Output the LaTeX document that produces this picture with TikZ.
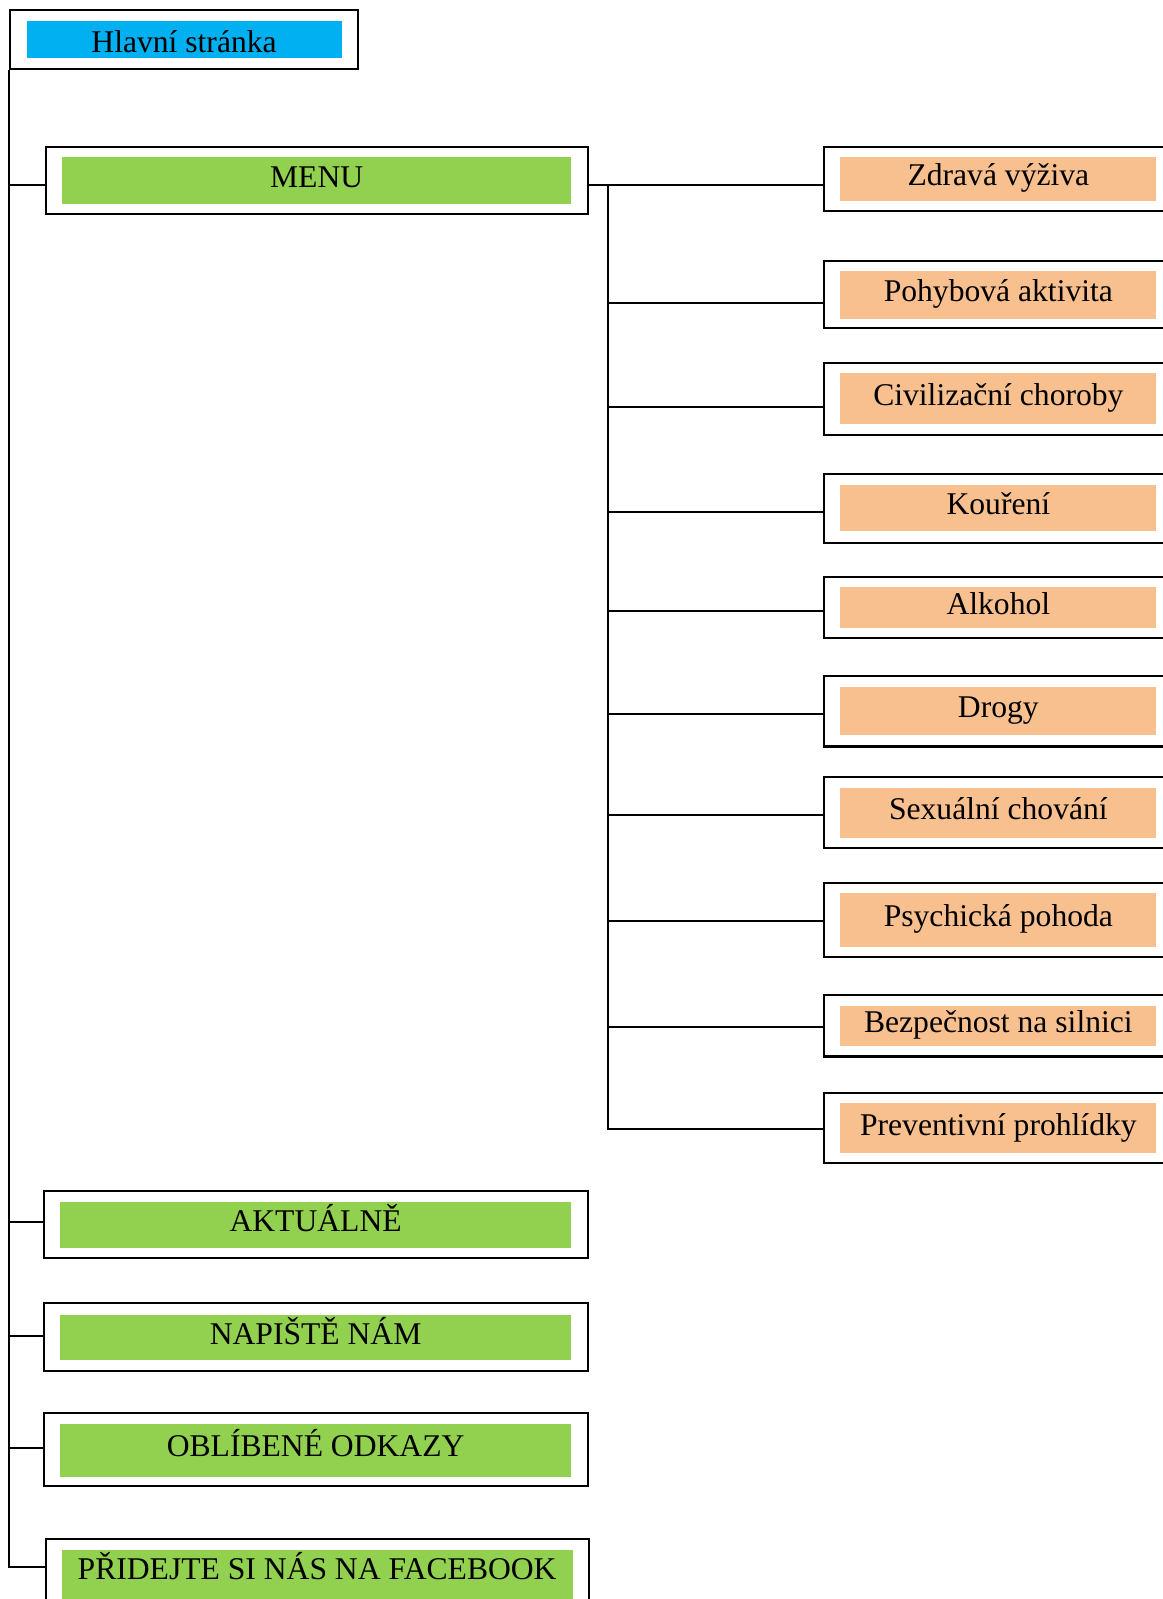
\documentclass[tikz,border=0pt]{standalone}
\usepackage{fontspec}
\setmainfont{Liberation Serif}
\usetikzlibrary{fit}
\definecolor{hcyan}{HTML}{00B0F0}
\definecolor{hgreen}{HTML}{92D050}
\definecolor{horange}{HTML}{F9C08F}
\begin{document}
\begin{tikzpicture}[x=0.5pt,y=-0.5pt,
  outerbox/.style={draw, line width=1pt, inner sep=0pt, fill=white},
  fillbox/.style={inner sep=0pt, font=\fontsize{15.5}{18}\selectfont, text=black},
  labeltext/.style={fillbox, text height=11pt, text depth=4.5pt},
  txt/.style={label={[labeltext]center:#1}},
  cyanbox/.style={fillbox, fill=hcyan},
  greenbox/.style={fillbox, fill=hgreen},
  orangebox/.style={fillbox, fill=horange},
  conn/.style={line width=1pt}]
\useasboundingbox (0,0) rectangle (1140,1568);

% main page
\node[outerbox, fit={(10,10) (351,68)}] (hs) {};
\node[cyanbox, fit={(26,21) (335,57)}, label={[labeltext,yshift=-3pt]center:Hlavní stránka}] (hsin) {};

% left column
\node[outerbox, fit={(45,144) (577,210)}] (menu) {};
\node[greenbox, fit={(61,154) (560,200)}, txt={MENU}] (menuin) {};

\node[outerbox, fit={(43,1168) (577,1234)}] (akt) {};
\node[greenbox, fit={(59,1179) (560,1224)}, txt={AKTUÁLNĚ}] (aktin) {};

\node[outerbox, fit={(43,1278) (577,1344)}] (nap) {};
\node[greenbox, fit={(59,1289) (560,1334)}, txt={NAPIŠTĚ NÁM}] (napin) {};

\node[outerbox, fit={(43,1386) (577,1457)}] (obl) {};
\node[greenbox, fit={(59,1396) (560,1448)}, txt={OBLÍBENÉ ODKAZY}] (oblin) {};

\node[outerbox, fit={(45,1509) (578,1573)}] (fb) {};
\node[greenbox, fit={(61,1520) (562,1580)}] (fbin) {};
\node[labeltext, text depth=0.5pt] (fbtxt) at (311,1538) {PŘIDEJTE SI NÁS NA FACEBOOK};

% right column
\node[outerbox, fit={(808,144) (1150,207)}] (r1) {};
\node[orangebox, fit={(824,154) (1134,197)}, txt={Zdravá výživa}] (r1in) {};
\node[outerbox, fit={(808,256) (1150,322)}] (r2) {};
\node[orangebox, fit={(824,266) (1134,313)}, txt={Pohybová aktivita}] (r2in) {};
\node[outerbox, fit={(808,356) (1150,427)}] (r3) {};
\node[orangebox, fit={(824,366) (1134,416)}, txt={Civilizační choroby}] (r3in) {};
\node[outerbox, fit={(808,465) (1150,532)}] (r4) {};
\node[orangebox, fit={(824,476) (1134,521)}, txt={Kouření}] (r4in) {};
\node[outerbox, fit={(808,566) (1150,626)}] (r5) {};
\node[orangebox, fit={(824,576) (1134,616)}, txt={Alkohol}] (r5in) {};
\node[outerbox, fit={(808,663) (1150,732)}] (r6) {};
\node[orangebox, fit={(824,674) (1134,721)}, txt={Drogy}] (r6in) {};
\node[outerbox, fit={(808,762) (1150,832)}] (r7) {};
\node[orangebox, fit={(824,773) (1134,822)}, txt={Sexuální chování}] (r7in) {};
\node[outerbox, fit={(808,866) (1150,938)}] (r8) {};
\node[orangebox, fit={(824,876) (1134,929)}, txt={Psychická pohoda}] (r8in) {};
\node[outerbox, fit={(808,976) (1150,1036)}] (r9) {};
\node[orangebox, fit={(824,986) (1134,1026)}, txt={Bezpečnost na silnici}] (r9in) {};
\node[outerbox, fit={(808,1072) (1150,1140)}] (r10) {};
\node[orangebox, fit={(824,1082) (1134,1131)}, txt={Preventivní prohlídky}] (r10in) {};

% left trunk
\draw[conn] (hs.south west) |- ([yshift=2pt]fb.west);
\draw[conn] (hs.south west |- menu.west) ++(0,4) -- ([yshift=-2pt]menu.west);
\draw[conn] (hs.south west |- akt.west) ++(0,-3) -- ([yshift=1.5pt]akt.west);
\draw[conn] (hs.south west |- nap.west) ++(0,-1) -- ([yshift=0.5pt]nap.west);
\draw[conn] (hs.south west |- obl.west) ++(0,-1.5) -- ([yshift=0.75pt]obl.west);

% right trunk
\coordinate (rt) at (596,181);
\draw[conn] ([yshift=-2pt]menu.east) -- (r1.west |- rt);
\draw[conn] (rt) |- ([yshift=-0.5pt]r10.west);
\foreach \n/\d in {r2/8,r3/8,r4/4,r5/3,r6/3,r7/2,r8/1,r9/1}
  \draw[conn] (rt |- \n.west) ++(0,\d) -- ([yshift=-\d*0.5pt]\n.west);
\end{tikzpicture}
\end{document}
